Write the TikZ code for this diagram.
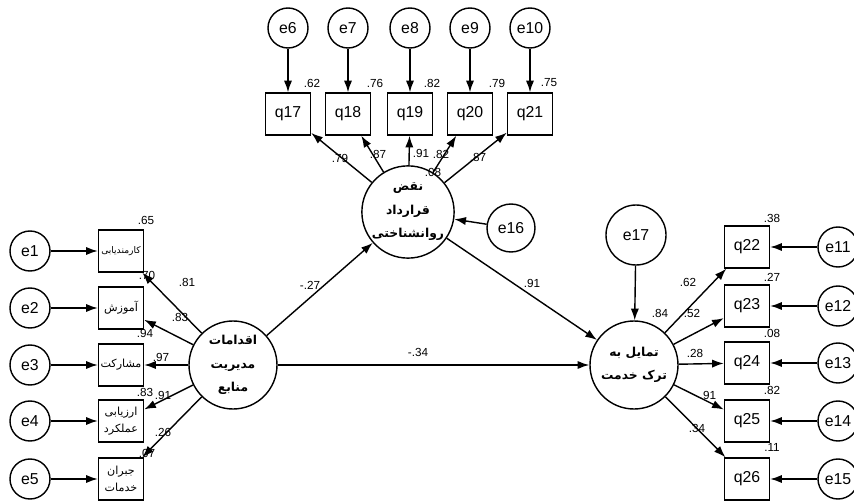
\documentclass[tikz,border=0pt]{standalone}
\usepackage{fontspec}
\setmainfont{Liberation Sans}
\newfontfamily\farsi[Script=Arabic]{DejaVu Sans}
\TeXXeTstate=1
\usetikzlibrary{arrows.meta}

\newcommand{\fa}[1]{\beginR #1\endR}

\tikzset{
	latent/.style={circle, draw, line width=1.2pt, fill=white, minimum size=2.64cm,
		inner sep=0pt, align=center, font=\farsi\bfseries\fontsize{10.5}{20}\selectfont},
	errvar/.style={circle, draw, line width=1.2pt, fill=white, minimum size=1.2cm,
		inner sep=0pt, font=\fontsize{13.5}{13.5}\selectfont},
	obsbox/.style={rectangle, draw, line width=1.2pt, fill=white, minimum width=1.35cm,
		minimum height=1.26cm, inner sep=0pt, align=center, font=\fontsize{13.5}{13.5}\selectfont},
	fabox/.style={obsbox, font=\farsi\fontsize{9.5}{15}\selectfont},
	coef/.style={inner sep=0pt, font=\fontsize{10}{10}\selectfont},
	regarrow/.style={line width=1.2pt, -{Latex[length=10pt,width=7pt]}}
}

\begin{document}
\begin{tikzpicture}[x=0.03cm, y=-0.03cm]
	\useasboundingbox (0,0) rectangle (854,504);
	
	% latent variables
	\node[latent] (manage) at (233,365) {\fa{اقدامات}\\\fa{مدیریت}\\\fa{منابع}};
	\node[latent] (breach) at (408,212) {\fa{نقض}\\\fa{قرارداد}\\\fa{روانشناختی}};
	\node[latent] (leave) at (634,365) {\fa{تمایل به}\\\fa{ترک خدمت}};
	
	% left indicators
	\node[fabox, font=\farsi\fontsize{7.8}{15}\selectfont] (recruit) at (121,251) {\fa{کارمندیابی}};
	\node[fabox] (train) at (121,308) {\fa{آموزش}};
	\node[fabox] (share) at (121,365) {\fa{مشارکت}};
	\node[fabox] (apprais) at (121,421) {\fa{ارزیابی}\\\fa{عملکرد}};
	\node[fabox] (reward) at (121,479) {\fa{جبران}\\\fa{خدمات}};
	
	\node[errvar] (e1) at (30,251) {e1};
	\node[errvar] (e2) at (30,308) {e2};
	\node[errvar] (e3) at (30,365) {e3};
	\node[errvar] (e4) at (30,421) {e4};
	\node[errvar] (e5) at (30,479) {e5};
	
	% top indicators
	\node[obsbox] (q17) at (288,114) {q17};
	\node[obsbox] (q18) at (348,114) {q18};
	\node[obsbox] (q19) at (410,114) {q19};
	\node[obsbox] (q20) at (470,114) {q20};
	\node[obsbox] (q21) at (530,114) {q21};
	
	\node[errvar] (e6) at (288,28) {e6};
	\node[errvar] (e7) at (348,28) {e7};
	\node[errvar] (e8) at (410,28) {e8};
	\node[errvar] (e9) at (470,28) {e9};
	\node[errvar] (e10) at (530,28) {e10};
	
	% right indicators
	\node[obsbox] (q22) at (747,247) {q22};
	\node[obsbox] (q23) at (747,306) {q23};
	\node[obsbox] (q24) at (747,363) {q24};
	\node[obsbox] (q25) at (747,421) {q25};
	\node[obsbox] (q26) at (747,479) {q26};
	
	\node[errvar] (e11) at (838,247) {e11};
	\node[errvar] (e12) at (838,306) {e12};
	\node[errvar] (e13) at (838,363) {e13};
	\node[errvar] (e14) at (838,421) {e14};
	\node[errvar] (e15) at (838,479) {e15};
	
	% disturbances
	\node[errvar, minimum size=1.44cm] (e16) at (511,228) {e16};
	\node[errvar, minimum size=1.8cm] (e17) at (636,235) {e17};
	
	% arrows
	\draw[regarrow] (e1) -- (recruit);
	\draw[regarrow] (e2) -- (train);
	\draw[regarrow] (e3) -- (share);
	\draw[regarrow] (e4) -- (apprais);
	\draw[regarrow] (e5) -- (reward);
	
	\draw[regarrow] (manage) -- (recruit);
	\draw[regarrow] (manage) -- (train);
	\draw[regarrow] (manage) -- (share);
	\draw[regarrow] (manage) -- (apprais);
	\draw[regarrow] (manage) -- (reward);
	
	\draw[regarrow] (e6) -- (q17);
	\draw[regarrow] (e7) -- (q18);
	\draw[regarrow] (e8) -- (q19);
	\draw[regarrow] (e9) -- (q20);
	\draw[regarrow] (e10) -- (q21);
	
	\draw[regarrow] (breach) -- (q17);
	\draw[regarrow] (breach) -- (q18);
	\draw[regarrow] (breach) -- (q19);
	\draw[regarrow] (breach) -- (q20);
	\draw[regarrow] (breach) -- (q21);
	
	\draw[regarrow] (e11) -- (q22);
	\draw[regarrow] (e12) -- (q23);
	\draw[regarrow] (e13) -- (q24);
	\draw[regarrow] (e14) -- (q25);
	\draw[regarrow] (e15) -- (q26);
	
	\draw[regarrow] (leave) -- (q22);
	\draw[regarrow] (leave) -- (q23);
	\draw[regarrow] (leave) -- (q24);
	\draw[regarrow] (leave) -- (q25);
	\draw[regarrow] (leave) -- (q26);
	
	\draw[regarrow] (e16) -- (breach);
	\draw[regarrow] (e17) -- (leave);
	\draw[regarrow] (manage) -- (breach);
	\draw[regarrow] (manage) -- (leave);
	\draw[regarrow] (breach) -- (leave);
	
	% estimates, left
	\node[coef] (r1) at (146,220) {.65};
	\node[coef] (r2) at (147,275) {.70};
	\node[coef] (r3) at (145,333) {.94};
	\node[coef] (r4) at (145,392) {.83};
	\node[coef] (r5) at (147,453) {.07};
	\node[coef] (l1) at (187,282) {.81};
	\node[coef] (l2) at (180,317) {.83};
	\node[coef] (l3) at (161,357) {.97};
	\node[coef] (l4) at (163,395) {.91};
	\node[coef] (l5) at (163,432) {.26};
	
	% estimates, top
	\node[coef] (r6) at (312,83) {.62};
	\node[coef] (r7) at (375,83) {.76};
	\node[coef] (r8) at (432,83) {.82};
	\node[coef] (r9) at (497,83) {.79};
	\node[coef] (r10) at (549,83) {.75};
	\node[coef] (l6) at (340,158) {.79};
	\node[coef] (l7) at (378,154) {.87};
	\node[coef] (l8) at (421,153) {.91};
	\node[coef] (l9) at (441,154) {.82};
	\node[coef] (l10) at (478,157) {.87};
	\node[coef] (rb) at (433,172) {.08};
	
	% estimates, right
	\node[coef] (r11) at (772,218) {.38};
	\node[coef] (r12) at (772,277) {.27};
	\node[coef] (r13) at (772,333) {.08};
	\node[coef] (r14) at (772,390) {.82};
	\node[coef] (r15) at (772,447) {.11};
	\node[coef] (l11) at (688,282) {.62};
	\node[coef] (l12) at (692,313) {.52};
	\node[coef] (l13) at (695,353) {.28};
	\node[coef] (l14) at (708,395) {.91};
	\node[coef] (l15) at (697,428) {.34};
	\node[coef] (rl) at (660,313) {.84};
	
	% structural paths
	\node[coef] (p1) at (310,285) {-.27};
	\node[coef] (p2) at (532,283) {.91};
	\node[coef] (p3) at (418,352) {-.34};
\end{tikzpicture}
\end{document}
